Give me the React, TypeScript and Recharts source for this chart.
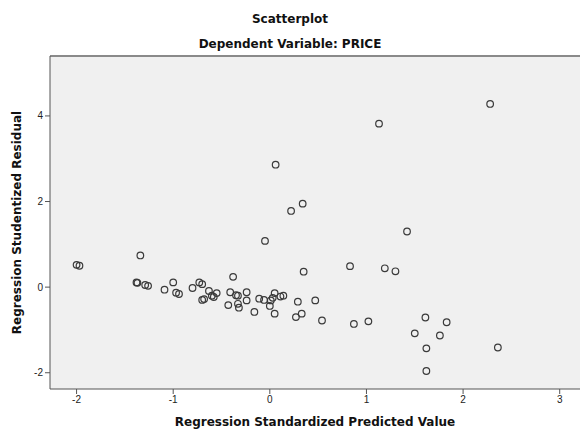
import { ScatterChart, Scatter, XAxis, YAxis, ReferenceArea, ReferenceLine } from "recharts";

// standardized predicted value (x) and studentized residual (y)
const predicted = [
  -2.0, -1.97, -1.34, -1.38, -1.37, -1.29, -1.26, -1.09, -1.0, -0.97, -0.94,
  -0.8, -0.73, -0.7, -0.63, -0.68, -0.7, -0.6, -0.58, -0.55, -0.38, -0.41,
  -0.35, -0.33, -0.43, -0.33, -0.32, -0.24, -0.24, -0.16, -0.11, -0.06, 0.0,
  0.01, 0.03, 0.05, 0.05, 0.11, 0.14, -0.05, 0.35, 0.29, 0.27, 0.33, 0.47,
  0.54, 0.83, 0.87, 1.02, 1.19, 1.3, 1.42, 1.13, 0.06, 0.34, 0.22, 2.28,
  1.61, 1.5, 1.83, 1.76, 1.62, 1.62, 2.36,
];
const residual = [
  0.52, 0.5, 0.74, 0.11, 0.1, 0.05, 0.03, -0.06, 0.11, -0.13, -0.16,
  -0.02, 0.11, 0.07, -0.09, -0.28, -0.3, -0.2, -0.23, -0.14, 0.24, -0.12,
  -0.19, -0.2, -0.42, -0.39, -0.48, -0.12, -0.31, -0.58, -0.27, -0.3, -0.44,
  -0.31, -0.25, -0.14, -0.62, -0.22, -0.2, 1.08, 0.36, -0.34, -0.7, -0.62, -0.31,
  -0.78, 0.49, -0.86, -0.8, 0.44, 0.37, 1.3, 3.82, 2.86, 1.95, 1.78, 4.28,
  -0.71, -1.08, -0.82, -1.13, -1.43, -1.96, -1.41,
];
const xTicks = [-2, -1, 0, 1, 2, 3];
const yTicks = [-2, 0, 2, 4];
const xDomain: [number, number] = [-2.275, 3.21];
const yDomain: [number, number] = [-2.38, 5.4];

const points = predicted.map((x, i) => ({ x, y: residual[i] }));

const font = "'Liberation Sans', Arial, sans-serif";
const boldFont = "'DejaVu Sans', sans-serif";

const Ring = (props: any) => (
  <circle cx={props.cx} cy={props.cy} r={3.3} fill="none" stroke="#3a3a3a" strokeWidth={1.2} />
);

export default function App() {
  return (
    <div style={{ position: "absolute", left: 0, top: 0, width: 580, height: 429, background: "#fff", fontFamily: boldFont }}>
      <div style={{ position: "absolute", left: 0, top: 12, width: 580, textAlign: "center", fontSize: 12, fontWeight: "bold", color: "#111" }}>
        Scatterplot
      </div>
      <div style={{ position: "absolute", left: 0, top: 37, width: 580, textAlign: "center", fontSize: 12, fontWeight: "bold", color: "#111" }}>
        Dependent Variable: PRICE
      </div>
      <ScatterChart width={580} height={429} margin={{ top: 56, right: 0, bottom: 0, left: 0 }} style={{ position: "absolute", left: 0, top: 0 }}>
        <ReferenceArea
          x1={xDomain[0]}
          x2={xDomain[1]}
          y1={yDomain[0]}
          y2={yDomain[1]}
          fill="#f0f0f0"
          fillOpacity={1}
          stroke="none"
          ifOverflow="visible"
        />
        <ReferenceLine y={yDomain[1]} stroke="#8a8a8a" strokeWidth={2} ifOverflow="visible" />
        <XAxis
          type="number"
          dataKey="x"
          domain={xDomain}
          ticks={xTicks}
          height={40}
          allowDataOverflow
          stroke="#555"
          tickSize={5}
          tick={{ fontSize: 10, fill: "#222", fontFamily: font }}
          label={{ value: "Regression Standardized Predicted Value", position: "insideBottom", offset: 3, fontSize: 12, fontWeight: "bold", fill: "#111", fontFamily: boldFont }}
        />
        <YAxis
          type="number"
          dataKey="y"
          domain={yDomain}
          ticks={yTicks}
          width={50}
          allowDataOverflow
          stroke="#555"
          tickSize={5}
          tick={{ fontSize: 10, fill: "#222", fontFamily: font }}
          label={{ value: "Regression Studentized Residual", angle: -90, position: "insideLeft", offset: 17, style: { textAnchor: "middle" }, fontSize: 12, fontWeight: "bold", fill: "#111", fontFamily: boldFont }}
        />
        <Scatter data={points} shape={Ring} isAnimationActive={false} />
      </ScatterChart>
    </div>
  );
}
